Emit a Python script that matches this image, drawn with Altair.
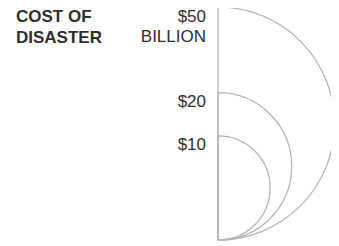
import math
import altair as alt
import pandas as pd

costs = [50, 20, 10]
labels = ["$50", "$20", "$10"]
unit_label = "BILLION"
title_lines = ["COST OF", "DISASTER"]

df = pd.DataFrame({"cost": costs, "label": labels})
max_cost = max(costs)
rmax = math.sqrt(max_cost)

yscale = alt.Scale(domain=[0, 2 * rmax], range=[232, -1])
rscale = alt.Scale(type="sqrt", domain=[0, max_cost], range=[0, 116.5])

base = alt.Chart(df).transform_calculate(
    r="sqrt(datum.cost)", top="2*sqrt(datum.cost)"
)

arcs = base.mark_arc(filled=False, color="#b5b5b5", strokeWidth=1.3).encode(
    x=alt.value(210),
    y=alt.Y("r:Q", scale=yscale, axis=None, stack=None),
    radius=alt.Radius("cost:Q", scale=rscale, stack=None),
    theta=alt.value(0),
    theta2=alt.value(math.pi),
)

value_labels = base.mark_text(
    align="right", baseline="alphabetic", dy=14.5, fontSize=17,
    font="Liberation Sans", color="#2e2e2e",
).encode(
    x=alt.value(198),
    y=alt.Y("top:Q", scale=yscale, axis=None),
    text="label:N",
)

unit = base.transform_filter(f"datum.cost == {max_cost}").mark_text(
    align="right", baseline="alphabetic", dy=35, fontSize=17,
    font="Liberation Sans", color="#2e2e2e",
).encode(
    x=alt.value(198),
    y=alt.Y("top:Q", scale=yscale, axis=None),
    text=alt.value(unit_label),
)

title_df = pd.DataFrame({"line": title_lines, "row": list(range(len(title_lines)))})
title = alt.Chart(title_df).mark_text(
    align="left", baseline="alphabetic", fontSize=17, fontWeight="bold",
    font="Liberation Sans", color="#2e2e2e",
).encode(
    x=alt.value(8),
    y=alt.Y("row:Q", scale=alt.Scale(domain=[0, 1], range=[13.5, 34.5]), axis=None),
    text="line:N",
)

chart = alt.layer(arcs, value_labels, unit, title).properties(
    width=323, height=238,
    autosize=alt.AutoSizeParams(type="none"),
    padding=0,
).resolve_scale(y="independent").configure_view(stroke=None)

chart.save("out.html", embed_options={"renderer": "svg", "actions": False})
